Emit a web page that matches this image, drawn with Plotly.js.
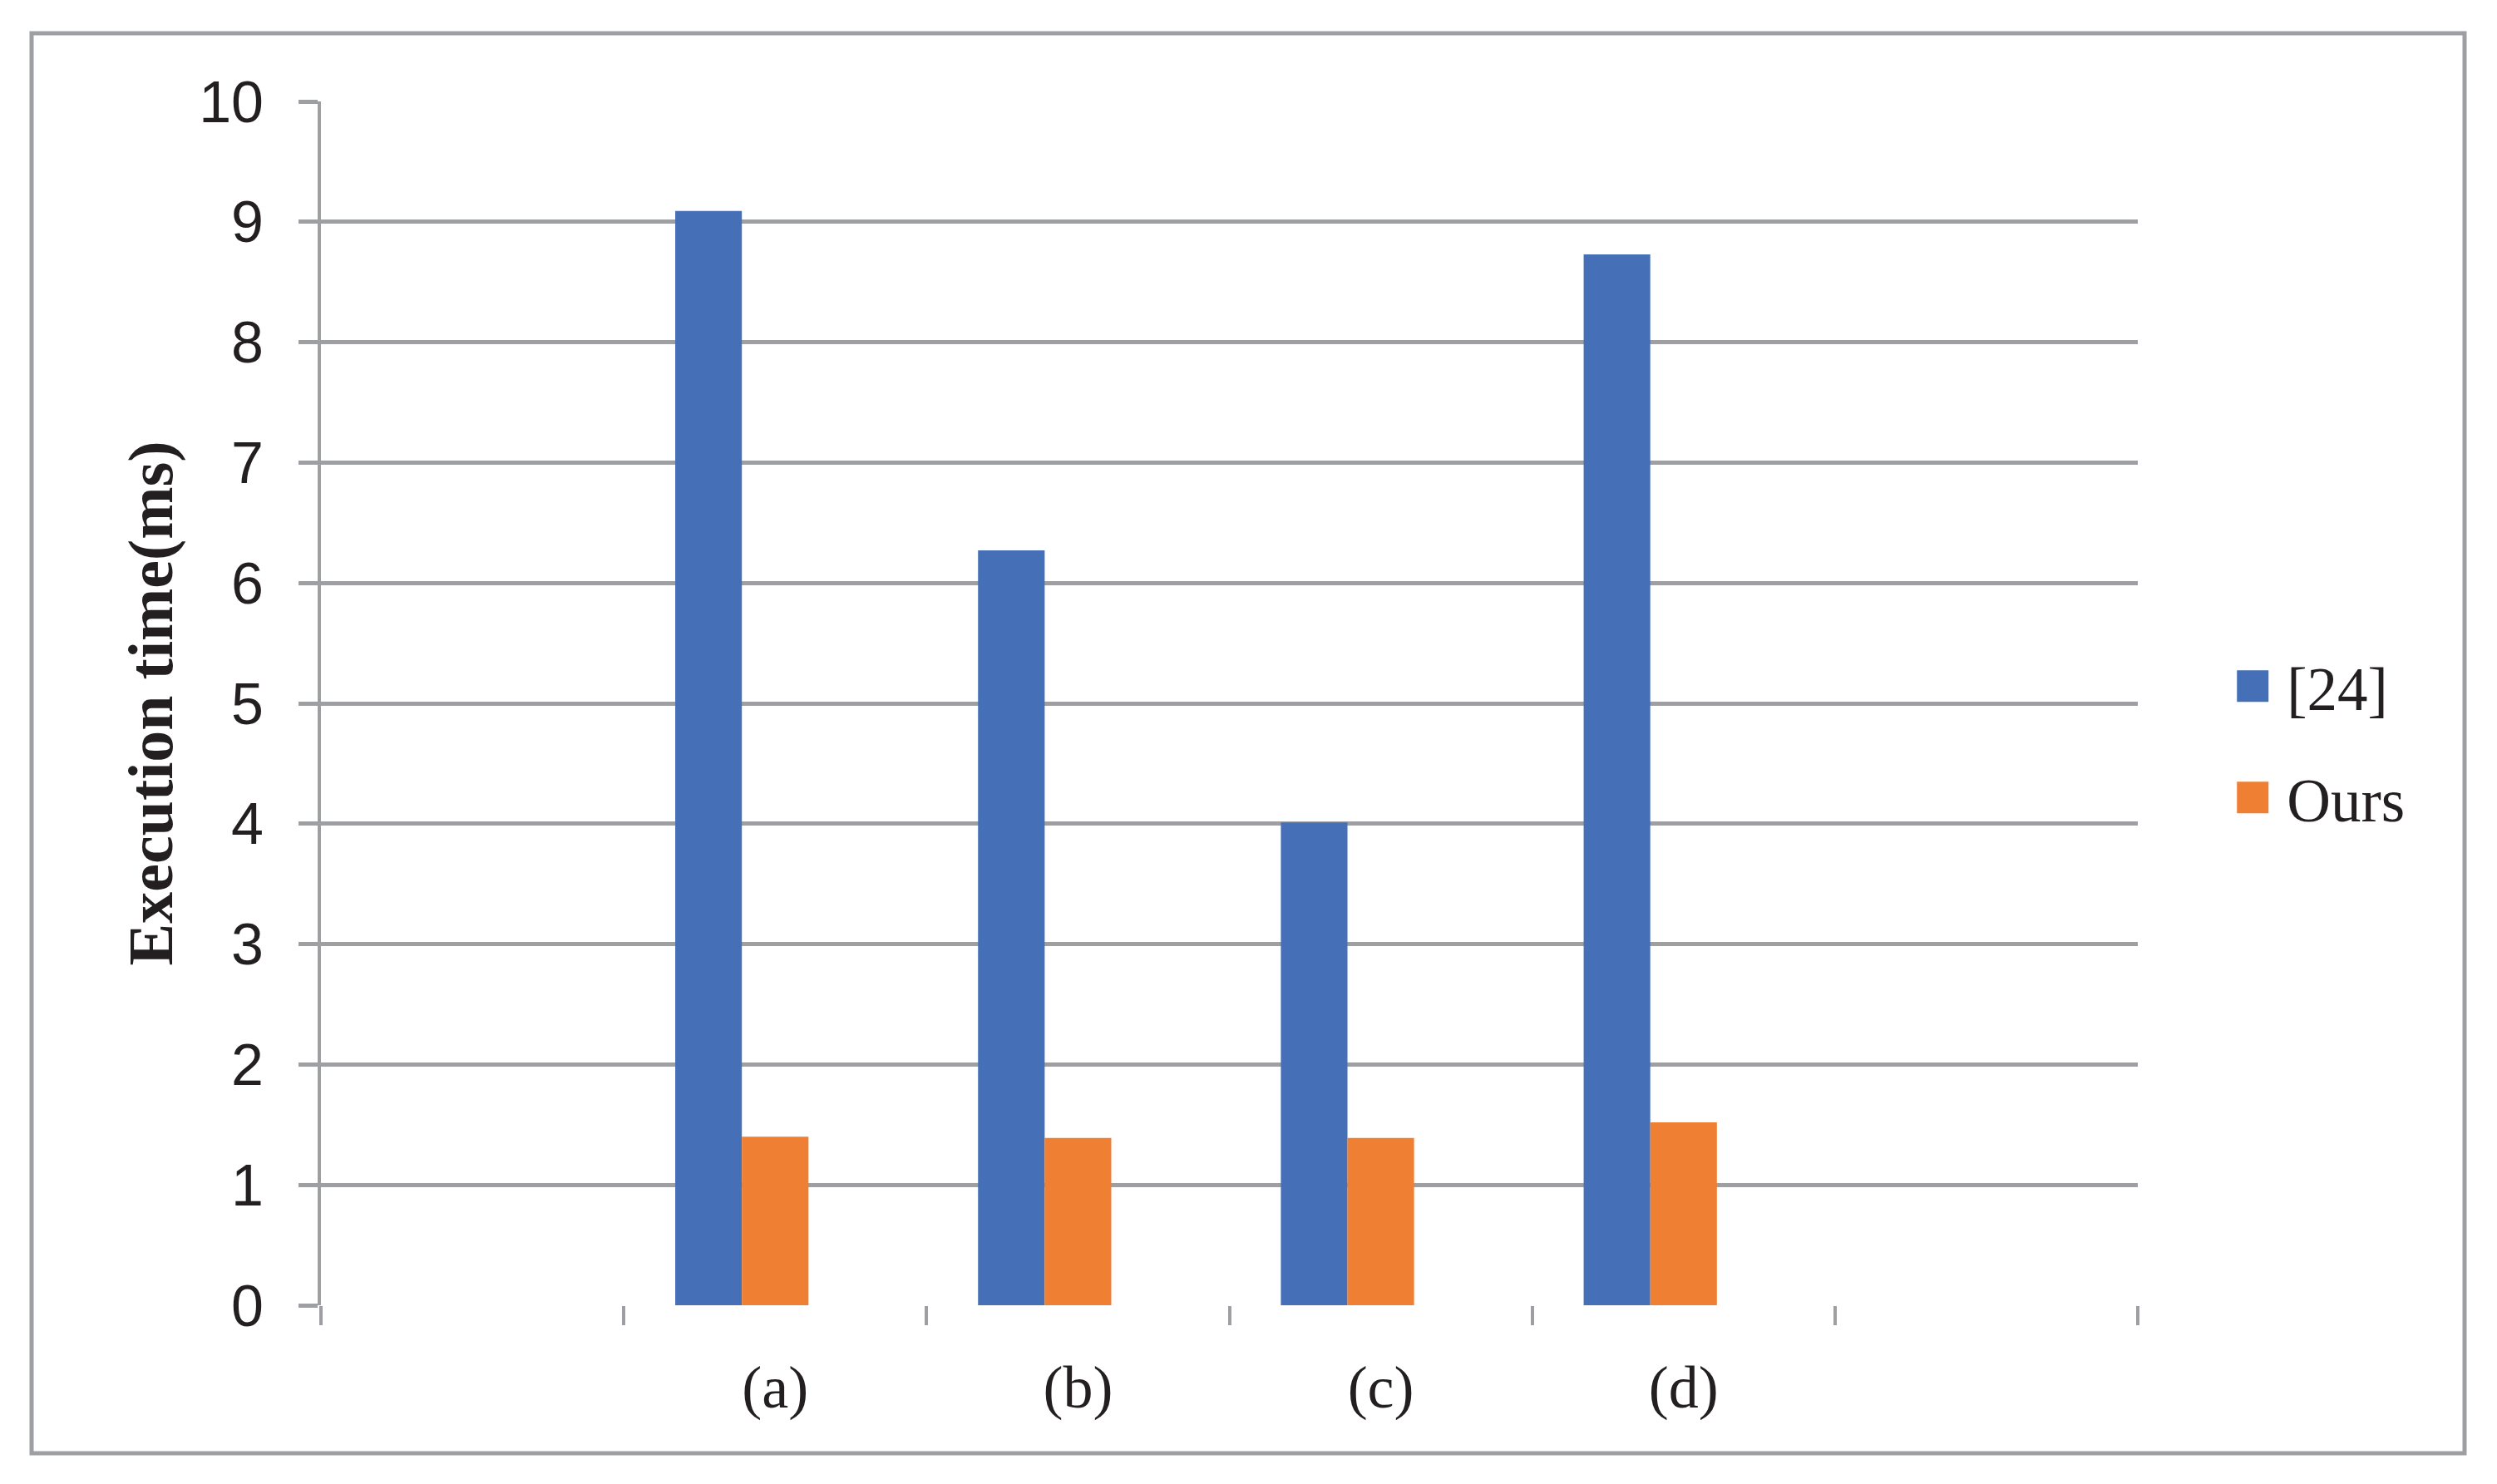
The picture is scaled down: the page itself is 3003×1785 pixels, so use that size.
<!DOCTYPE html>
<html>
<head>
<meta charset="utf-8">
<script src="https://cdn.plot.ly/plotly-3.0.1.min.js"></script>
<style>
  html, body { margin: 0; padding: 0; background: #ffffff; }
  #chart { width: 3003px; height: 1785px; }
</style>
</head>
<body>
<div id="chart"></div>
<script>
// ---- data ----
const categories = ['(a)', '(b)', '(c)', '(d)'];
const series1Name = '[24]';
const series1Values = [9.09, 6.27, 4.01, 8.73];
const series2Name = 'Ours';
const series2Values = [1.40, 1.39, 1.39, 1.52];
const yTickValues = [0, 1, 2, 3, 4, 5, 6, 7, 8, 9, 10];
const yTitle = 'Execution time(ms)';

// ---- styles ----
const GRID = '#9e9fa3';
const BLUE = '#4570b7';
const ORANGE = '#ee7f33';
const idx = categories.map((_, i) => i);
const boundaries = [];
for (let i = -1.5; i <= categories.length + 0.5; i += 1) boundaries.push(i);

const traces = [
  {
    type: 'bar', name: series1Name, x: idx, y: series1Values,
    width: 0.22, offset: -0.33,
    marker: { color: BLUE, line: { width: 0 } },
    legendgroup: 'g1'
  },
  {
    type: 'bar', name: series2Name, x: idx, y: series2Values,
    width: 0.22, offset: -0.11,
    marker: { color: ORANGE, line: { width: 0 } },
    legendgroup: 'g2'
  }
];

const layout = {
  width: 3003, height: 1785,
  paper_bgcolor: '#ffffff', plot_bgcolor: '#ffffff',
  margin: { l: 386, r: 432, t: 122, b: 215 },
  barmode: 'overlay',
  showlegend: true,
  legend: {
    x: 1.0445, y: 0.468, xanchor: 'left', yanchor: 'middle',
    font: { family: 'Liberation Serif, Times New Roman, serif', size: 73, color: '#231f20' },
    traceorder: 'grouped', tracegroupgap: 36,
    itemwidth: 72,
    bgcolor: 'rgba(0,0,0,0)'
  },
  xaxis: {
    type: 'linear', range: [-1.5, categories.length + 0.5],
    tickmode: 'array', tickvals: idx, ticktext: categories,
    ticks: '', showgrid: false, zeroline: false,
    showline: false,
    tickfont: { family: 'Liberation Serif, Times New Roman, serif', size: 72, color: '#231f20' },
    ticklabelstandoff: 50,
    minor: {
      tickmode: 'array', tickvals: boundaries,
      ticks: 'outside', ticklen: 23, tickwidth: 4, tickcolor: GRID, showgrid: false
    },
    fixedrange: true
  },
  yaxis: {
    range: [0, 10], tickmode: 'array', tickvals: yTickValues,
    ticks: 'outside', ticklen: 23, tickwidth: 5, tickcolor: GRID,
    showgrid: true, gridcolor: GRID, gridwidth: 5,
    zeroline: false,
    showline: true, linecolor: GRID, linewidth: 4,
    tickfont: { family: 'Liberation Sans, Arial, sans-serif', size: 70, color: '#231f20' },
    ticklabelstandoff: 28,
    title: {
      text: yTitle,
      font: { family: 'Liberation Serif, Times New Roman, serif', size: 76, color: '#231f20', weight: 'bold' },
      standoff: 8
    },
    fixedrange: true
  },
  shapes: [
    {
      type: 'rect', xref: 'paper', yref: 'paper',
      x0: (38 - 386) / 2185, x1: (2964 - 386) / 2185,
      y0: (1570 - 1748) / 1448, y1: (1570 - 40) / 1448,
      line: { color: GRID, width: 5 }, fillcolor: 'rgba(0,0,0,0)', layer: 'below'
    }
  ]
};

Plotly.newPlot('chart', traces, layout, { staticPlot: true, displayModeBar: false }).then(function () {
  document.querySelectorAll('.legendpoints path').forEach(function (p) {
    p.setAttribute('d', 'M19,19H-19V-19H19Z');
  });
});
</script>
</body>
</html>
